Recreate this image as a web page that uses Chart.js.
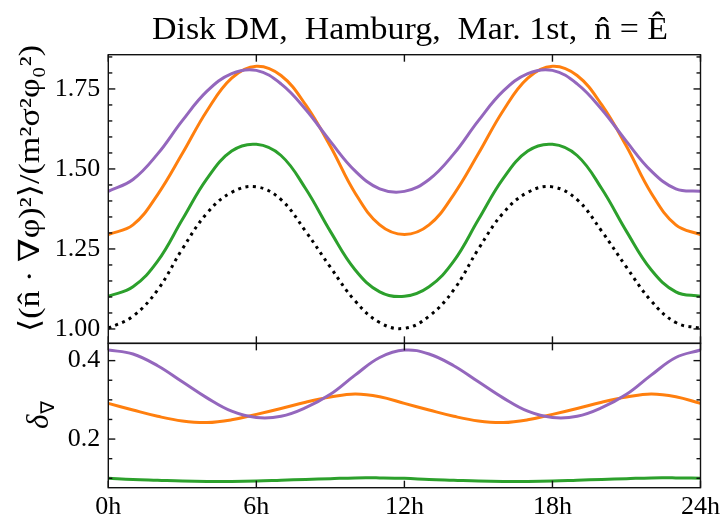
<!DOCTYPE html>
<html>
<head>
<meta charset="utf-8">
<script src="https://cdn.jsdelivr.net/npm/chart.js@4.4.1/dist/chart.umd.min.js"></script>
<style>
html,body{margin:0;padding:0;background:#fff;}
canvas{display:block;}
</style>
</head>
<body>
<canvas id="c" width="724" height="521"></canvas>
<script>
// ---------- data ----------
const hours = [0,1,2,3,4,5,6,7,8,9,10,11,12,13,14,15,16,17,18,19,20,21,22,23,24];
const xTickValues = [0,6,12,18,24];
const xTickLabels = ['0h','6h','12h','18h','24h'];
const topTickValues = [1.00,1.25,1.50,1.75];
const bottomTickValues = [0.2,0.4];
const titleText = 'Disk DM,  Hamburg,  Mar. 1st,  n\u0302 = \u00CA';
const topYLabel = '\u27E8(n\u0302 \u00B7 \u2207\u03C6)\u00B2\u27E9/(m\u00B2\u03C3\u00B2\u03C6\u2080\u00B2)';
const bottomYLabel = ['\u03B4', '\u2207'];

// top panel: <(n.grad phi)^2>/(m^2 sigma^2 phi0^2)
const topBlack  = [1.002,1.040,1.122,1.250,1.362,1.427,1.444,1.404,1.305,1.193,1.088,1.020,1.002,1.040,1.122,1.250,1.362,1.427,1.444,1.404,1.305,1.193,1.088,1.020,1.002];
const topGreen  = [1.102,1.132,1.212,1.342,1.470,1.556,1.577,1.542,1.438,1.305,1.185,1.116,1.102,1.132,1.212,1.342,1.470,1.556,1.577,1.542,1.438,1.305,1.185,1.116,1.102];
const topOrange = [1.295,1.325,1.420,1.548,1.682,1.784,1.821,1.792,1.700,1.571,1.425,1.325,1.295,1.325,1.420,1.548,1.682,1.784,1.821,1.792,1.700,1.571,1.425,1.325,1.295];
const topPurple = [1.430,1.467,1.547,1.651,1.743,1.798,1.808,1.766,1.686,1.586,1.494,1.438,1.430,1.467,1.547,1.651,1.743,1.798,1.808,1.766,1.686,1.586,1.494,1.438,1.430];

// bottom panel: delta_nabla
const botPurple = [0.427,0.417,0.387,0.346,0.305,0.271,0.255,0.258,0.280,0.314,0.363,0.408,0.427,0.417,0.387,0.346,0.305,0.271,0.255,0.258,0.280,0.314,0.363,0.408,0.427];
const botOrange = [0.291,0.274,0.258,0.246,0.242,0.249,0.263,0.278,0.294,0.307,0.315,0.308,0.291,0.274,0.258,0.246,0.242,0.249,0.263,0.278,0.294,0.307,0.315,0.308,0.291];
const botGreen  = [0.100,0.097,0.095,0.093,0.092,0.092,0.093,0.095,0.097,0.099,0.101,0.101,0.100,0.097,0.095,0.093,0.092,0.092,0.093,0.095,0.097,0.099,0.101,0.101,0.100];

const ORANGE = '#ff7f0e', GREEN = '#2ca02c', PURPLE = '#9467bd', BLACK = '#000000';
const SERIF = "'Liberation Serif', 'DejaVu Serif', serif";

function pts(arr){ return hours.map((h,i)=>({x:h, y:arr[i]})); }
function ds(arr, color, axis, dash){
  return {data: pts(arr), borderColor: color, backgroundColor: color, borderWidth: 3,
          borderDash: dash || [], pointRadius: 0, tension: 0.4,
          fill: false, yAxisID: axis};
}

const framePlugin = {
  id: 'frame',
  afterDatasetsDraw(chart){
    const ctx = chart.ctx;
    const x = chart.scales.x, yt = chart.scales.yt, yb = chart.scales.yb;
    const L = x.left, R = x.right;
    ctx.save();
    ctx.strokeStyle = '#111';
    ctx.lineWidth = 1.4;
    const line = (x1,y1,x2,y2)=>{ctx.beginPath();ctx.moveTo(x1,y1);ctx.lineTo(x2,y2);ctx.stroke();};
    [yt, yb].forEach(s=>{ ctx.strokeRect(L, s.top, R-L, s.bottom-s.top); });
    xTickValues.forEach(v=>{
      const px = x.getPixelForValue(v);
      [yt, yb].forEach(s=>{ line(px, s.top, px, s.top+7); line(px, s.bottom, px, s.bottom-7); });
    });
    const yTicks = (s, majors)=>{
      const lo = Math.ceil(s.min/0.05 - 1e-6), hi = Math.floor(s.max/0.05 + 1e-6);
      for (let k=lo; k<=hi; k++){
        const v = k*0.05;
        const isMajor = majors.some(m=>Math.abs(m-v)<1e-6);
        const len = isMajor ? 7 : 4;
        const py = s.getPixelForValue(v);
        line(L, py, L+len, py); line(R, py, R-len, py);
      }
    };
    yTicks(yt, topTickValues);
    yTicks(yb, bottomTickValues);
    ctx.restore();
  },
  afterDraw(chart){
    const ctx = chart.ctx, yb = chart.scales.yb, x = chart.scales.x;
    ctx.save();
    ctx.fillStyle = '#000';

    // ---- title, centred over the plot area, stretched to the reference width ----
    ctx.save();
    ctx.font = "32px " + SERIF;
    const tw = ctx.measureText(titleText).width;
    const tsx = 516 / tw;
    ctx.translate(410, 39);
    ctx.scale(tsx, 1);
    ctx.textAlign = 'center';
    ctx.textBaseline = 'alphabetic';
    ctx.fillText(titleText, 0, 0);
    ctx.restore();

    // ---- top y label ----
    ctx.save();
    ctx.translate(31, 188.5);
    ctx.rotate(-Math.PI/2);
    ctx.font = "29px " + SERIF;
    const w = ctx.measureText(topYLabel).width;
    ctx.scale(287 / w, 1);
    ctx.textAlign = 'center';
    ctx.textBaseline = 'middle';
    ctx.fillText(topYLabel, 0, 0);
    ctx.restore();

    // ---- bottom y label: delta with nabla subscript ----
    const cy = (yb.top + yb.bottom)/2;
    ctx.save();
    ctx.translate(42, cy);
    ctx.rotate(-Math.PI/2);
    ctx.textBaseline = 'middle';
    ctx.textAlign = 'left';
    ctx.font = "italic 31px " + SERIF;
    const w1 = ctx.measureText(bottomYLabel[0]).width;
    ctx.font = "19px 'DejaVu Sans', sans-serif";
    const w2 = ctx.measureText(bottomYLabel[1]).width;
    const start = -(w1 + w2)/2;
    ctx.font = "italic 31px " + SERIF;
    ctx.fillText(bottomYLabel[0], start, -2);
    ctx.font = "19px 'DejaVu Sans', sans-serif";
    ctx.fillText(bottomYLabel[1], start + w1 + 1, 7);
    ctx.restore();

    ctx.restore();
  }
};

new Chart(document.getElementById('c'), {
  type: 'line',
  data: {
    datasets: [
      ds(topPurple, PURPLE, 'yt'),
      ds(topOrange, ORANGE, 'yt'),
      ds(topGreen, GREEN, 'yt'),
      ds(topBlack, BLACK, 'yt', [3, 4.5]),
      ds(botPurple, PURPLE, 'yb'),
      ds(botOrange, ORANGE, 'yb'),
      ds(botGreen, GREEN, 'yb')
    ]
  },
  options: {
    responsive: false,
    animation: false,
    devicePixelRatio: 1,
    layout: {padding: {left: 0, right: 21, top: 54.7, bottom: 0}},
    plugins: {
      legend: {display: false},
      tooltip: {enabled: false},
      title: {display: false}
    },
    scales: {
      x: {
        type: 'linear', min: 0, max: 24, position: 'bottom',
        grid: {display: false, drawTicks: false},
        border: {display: false},
        afterBuildTicks: s => { s.ticks = xTickValues.map(v=>({value:v})); },
        afterFit: s => { s.height = 33.3; },
        ticks: {
          color: '#000', padding: 4, maxRotation: 0, autoSkip: false,
          font: {family: SERIF, size: 26},
          callback: v => xTickLabels[xTickValues.indexOf(v)]
        }
      },
      yb: {
        type: 'linear', position: 'left', stack: 'panels', stackWeight: 1,
        min: 0.076, max: 0.444,
        grid: {display: false, drawTicks: false},
        border: {display: false},
        afterBuildTicks: s => { s.ticks = bottomTickValues.map(v=>({value:v})); },
        afterFit: s => { s.width = 108.3; },
        ticks: {color: '#000', padding: 8, font: {family: SERIF, size: 26}, callback: v => v.toFixed(1)}
      },
      yt: {
        type: 'linear', position: 'left', stack: 'panels', stackWeight: 2,
        min: 0.955, max: 1.857,
        grid: {display: false, drawTicks: false},
        border: {display: false},
        afterBuildTicks: s => { s.ticks = topTickValues.map(v=>({value:v})); },
        afterFit: s => { s.width = 108.3; },
        ticks: {color: '#000', padding: 8, font: {family: SERIF, size: 26}, callback: v => v.toFixed(2)}
      }
    }
  },
  plugins: [framePlugin]
});
</script>
</body>
</html>
